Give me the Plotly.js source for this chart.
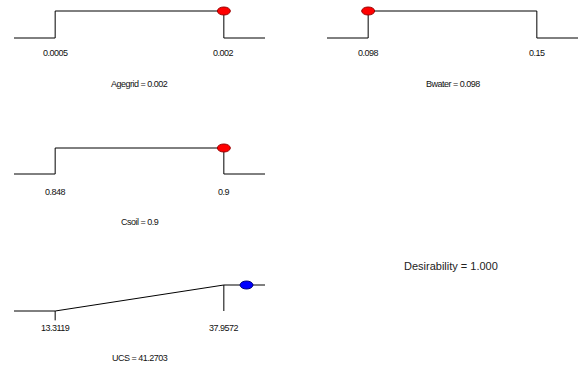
<!DOCTYPE html>
<html>
<head>
<meta charset="utf-8">
<script src="https://cdn.plot.ly/plotly-3.0.1.min.js"></script>
<style>
  html, body { margin: 0; padding: 0; background: #fff; }
  #plot { width: 578px; height: 365px; }
  /* tight, compact lettering for the small 9px labels only */
  text.annotation-text[style*="font-size: 9px"] { letter-spacing: -0.5px; }
</style>
</head>
<body>
<div id="plot"></div>
<script>
// Factor settings of the optimised solution
const factorNames = ['Agegrid', 'Bwater', 'Csoil'];
const factorLow = [0.0005, 0.098, 0.848];
const factorHigh = [0.002, 0.15, 0.9];
const factorSetting = [0.002, 0.098, 0.9];

// Response (maximised)
const responseName = 'UCS';
const responseLow = 13.3119;
const responseTarget = 37.9572;
const responsePredicted = 41.2703;

const desirability = 1.000;

// ---- layout geometry (pixels) ----
const W = 578, H = 365;
const panels = [
  // plot left/right, baseline & top row, tick-label row, caption row
  { left: 14,  right: 265, base: 38,  top: 11,  labelY: 53,  capY: 84 },
  { left: 327, right: 578, base: 38,  top: 11,  labelY: 53,  capY: 84 },
  { left: 14,  right: 265, base: 174, top: 148, labelY: 192, capY: 222 },
  { left: 14,  right: 265, base: 311, top: 285, labelY: 328, capY: 358 }
];
const PAD = 41 / 168;           // share of the limit span shown outside the limits
const Y_LO = -0.5, Y_HI = 1.3;  // desirability axis range

const font = { family: 'Liberation Sans, Arial, sans-serif', color: '#000' };
const small = { family: 'Liberation Sans, Arial, sans-serif', color: '#111', size: 9 };
const traces = [];
const shapes = [];
const annotations = [];
const layout = {
  width: W, height: H,
  margin: { l: 0, r: 0, t: 0, b: 0 },
  paper_bgcolor: '#fff', plot_bgcolor: 'rgba(0,0,0,0)',
  showlegend: false,
  font: font
};

function axisRange(lo, hi) {
  const span = hi - lo;
  return [lo - span * PAD, hi + span * PAD];
}

function setupAxes(i, lo, hi) {
  const p = panels[i];
  const n = i + 1;
  const unit = p.base - p.top;               // pixels per desirability unit
  const yBottomPx = p.base - Y_LO * unit;    // pixel row of Y_LO
  const yTopPx = p.base - Y_HI * unit;
  const hidden = { showgrid: false, zeroline: false, showline: false,
                   showticklabels: false, ticks: '', fixedrange: true };
  layout['xaxis' + (n === 1 ? '' : n)] = Object.assign({}, hidden, {
    domain: [p.left / W, p.right / W],
    range: axisRange(lo, hi),
    anchor: 'y' + (n === 1 ? '' : n)
  });
  layout['yaxis' + (n === 1 ? '' : n)] = Object.assign({}, hidden, {
    domain: [1 - yBottomPx / H, 1 - yTopPx / H],
    range: [Y_LO, Y_HI],
    anchor: 'x' + (n === 1 ? '' : n)
  });
  return { xa: 'x' + (n === 1 ? '' : n), ya: 'y' + (n === 1 ? '' : n),
           range: axisRange(lo, hi) };
}

function limitLabels(ax, p, values) {
  values.forEach(v => annotations.push({
    text: String(v), x: v, xref: ax.xa, y: 1 - p.labelY / H, yref: 'paper',
    xanchor: 'center', yanchor: 'middle', showarrow: false,
    font: small
  }));
}

function caption(ax, p, text) {
  annotations.push({
    text: text, x: 0.5, xref: ax.xa + ' domain', y: 1 - p.capY / H, yref: 'paper',
    xanchor: 'center', yanchor: 'middle', showarrow: false,
    font: small
  });
}

function dot(ax, x, fill, edge) {
  shapes.push({
    type: 'circle', xref: ax.xa, yref: ax.ya,
    xsizemode: 'pixel', ysizemode: 'pixel',
    xanchor: x, yanchor: 1,
    x0: -6.5, x1: 6.5, y0: -4, y1: 4,
    fillcolor: fill, line: { color: edge, width: 1 }, layer: 'above'
  });
}

const lineStyle = { color: '#000', width: 1 };

// Factor panels: desirability is 1 inside the limits, 0 outside
factorNames.forEach((name, i) => {
  const p = panels[i];
  const lo = factorLow[i], hi = factorHigh[i];
  const ax = setupAxes(i, lo, hi);
  traces.push({
    type: 'scatter', mode: 'lines', xaxis: ax.xa, yaxis: ax.ya,
    x: [ax.range[0], lo, lo, hi, hi, ax.range[1]],
    y: [0, 0, 1, 1, 0, 0],
    line: lineStyle, hoverinfo: 'skip', cliponaxis: false
  });
  dot(ax, factorSetting[i], '#ff0000', '#990000');
  limitLabels(ax, p, [lo, hi]);
  caption(ax, p, name + ' = ' + factorSetting[i]);
});

// Response panel: linear ramp from the lower limit up to the target
(function () {
  const p = panels[3];
  const ax = setupAxes(3, responseLow, responseTarget);
  traces.push({
    type: 'scatter', mode: 'lines', xaxis: ax.xa, yaxis: ax.ya,
    x: [ax.range[0], responseLow, responseTarget, ax.range[1]],
    y: [0, 0, 1, 1],
    line: lineStyle, hoverinfo: 'skip', cliponaxis: false
  });
  // limit markers
  traces.push({
    type: 'scatter', mode: 'lines', xaxis: ax.xa, yaxis: ax.ya,
    x: [responseTarget, responseTarget], y: [1, 0],
    line: lineStyle, hoverinfo: 'skip', cliponaxis: false
  });
  traces.push({
    type: 'scatter', mode: 'lines', xaxis: ax.xa, yaxis: ax.ya,
    x: [responseLow, responseLow], y: [0, -0.36],
    line: lineStyle, hoverinfo: 'skip', cliponaxis: false
  });
  dot(ax, responsePredicted, '#0000ff', '#000080');
  limitLabels(ax, p, [responseLow, responseTarget]);
  caption(ax, p, responseName + ' = ' + responsePredicted);
})();

// Overall desirability
annotations.push({
  text: 'Desirability = ' + desirability.toFixed(3),
  x: 451 / W, xref: 'paper', y: 1 - 266 / H, yref: 'paper',
  xanchor: 'center', yanchor: 'middle', showarrow: false,
  font: Object.assign({}, font, { size: 11, color: '#222' })
});

layout.shapes = shapes;
layout.annotations = annotations;

Plotly.newPlot('plot', traces, layout, { displayModeBar: false, staticPlot: true });
</script>
</body>
</html>
